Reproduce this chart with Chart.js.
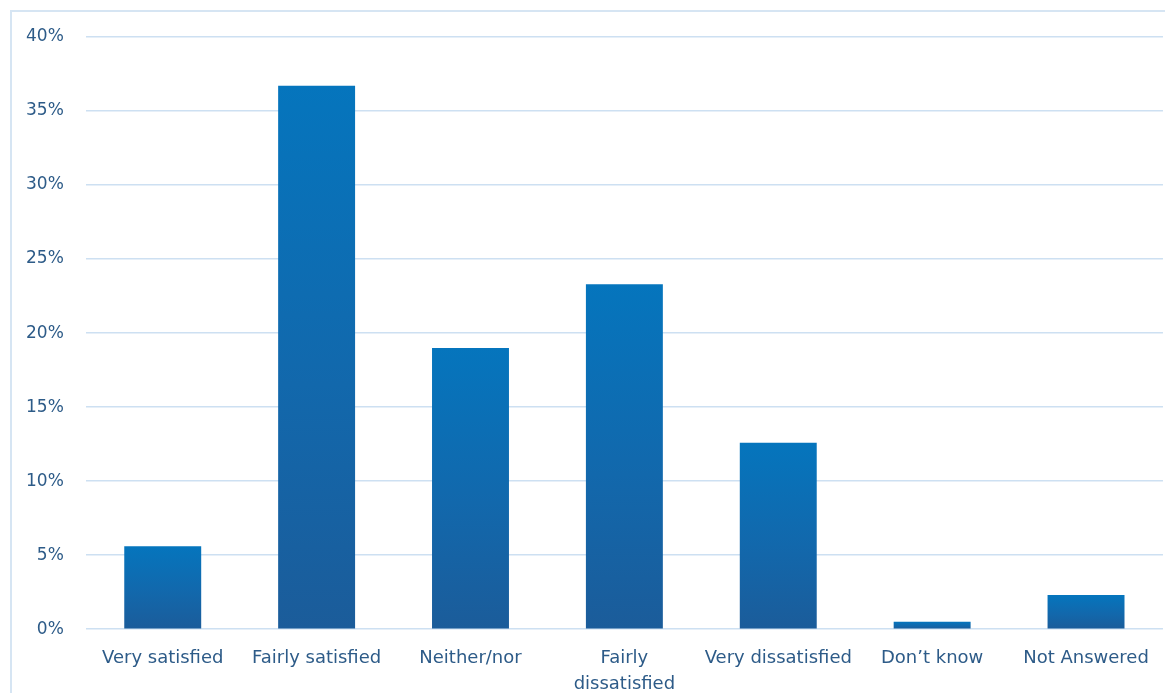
<!DOCTYPE html>
<html><head><meta charset="utf-8">
<script src="https://cdn.jsdelivr.net/npm/chart.js@4/dist/chart.umd.min.js"></script>
<style>
html,body{margin:0;padding:0;background:#fff;overflow:hidden}
#wrap{position:relative;width:1165px;height:693px;overflow:hidden}
#frame{position:absolute;left:10px;top:10px;width:1165px;height:700px;border:2px solid #d6e5f3;box-sizing:border-box}
canvas{position:absolute;left:0;top:0}
</style></head><body>
<div id="wrap"><div id="frame"></div><canvas id="c" width="1165" height="713"></canvas></div>
<script>
const categories = ["Very satisfied","Fairly satisfied","Neither/nor",["Fairly","dissatisfied"],"Very dissatisfied","Don\u2019t know","Not Answered"];
const values = [5.6, 36.7, 19.0, 23.3, 12.6, 0.5, 2.3];
const yTicks = [0,5,10,15,20,25,30,35,40];

function barGradient(ctx){
  const chart = ctx.chart;
  const y = chart.scales.y;
  if(!y || ctx.parsed === undefined) return '#0a72b8';
  const top = y.getPixelForValue(ctx.parsed.y);
  const base = y.getPixelForValue(0);
  if(!isFinite(top) || !isFinite(base) || base-top < 1) return '#0a72b8';
  const g = chart.ctx.createLinearGradient(0, top, 0, base);
  g.addColorStop(0, '#0575bd');
  g.addColorStop(0.55, '#1268ac');
  g.addColorStop(1, '#1b5c9a');
  return g;
}

new Chart(document.getElementById('c'), {
  type: 'bar',
  data: { labels: categories, datasets: [{ data: values, backgroundColor: barGradient, borderWidth: 0, barPercentage: 0.5, categoryPercentage: 1.0 }] },
  options: {
    responsive: false, animation: false, devicePixelRatio: 1,
    layout: { padding: { left: 4, right: 2, top: 37, bottom: 0 } },
    plugins: { legend: { display: false }, tooltip: { enabled: false } },
    scales: {
      y: {
        min: 0, max: 40,
        afterBuildTicks: (s) => { s.ticks = yTicks.map(v => ({ value: v })); },
        ticks: { callback: v => v + '%', color: '#2d5b88', font: { family: 'DejaVu Sans', size: 17 }, padding: 22 },
        grid: { color: '#cde0f2', lineWidth: 1.5, drawTicks: false },
        border: { display: false }
      },
      x: {
        ticks: { color: '#2d5b88', font: { family: 'DejaVu Sans', size: 18, lineHeight: 1.44 }, padding: 16, maxRotation: 0, autoSkip: false },
        grid: { display: false, drawTicks: false },
        border: { display: false }
      }
    }
  }
});
</script></body></html>
